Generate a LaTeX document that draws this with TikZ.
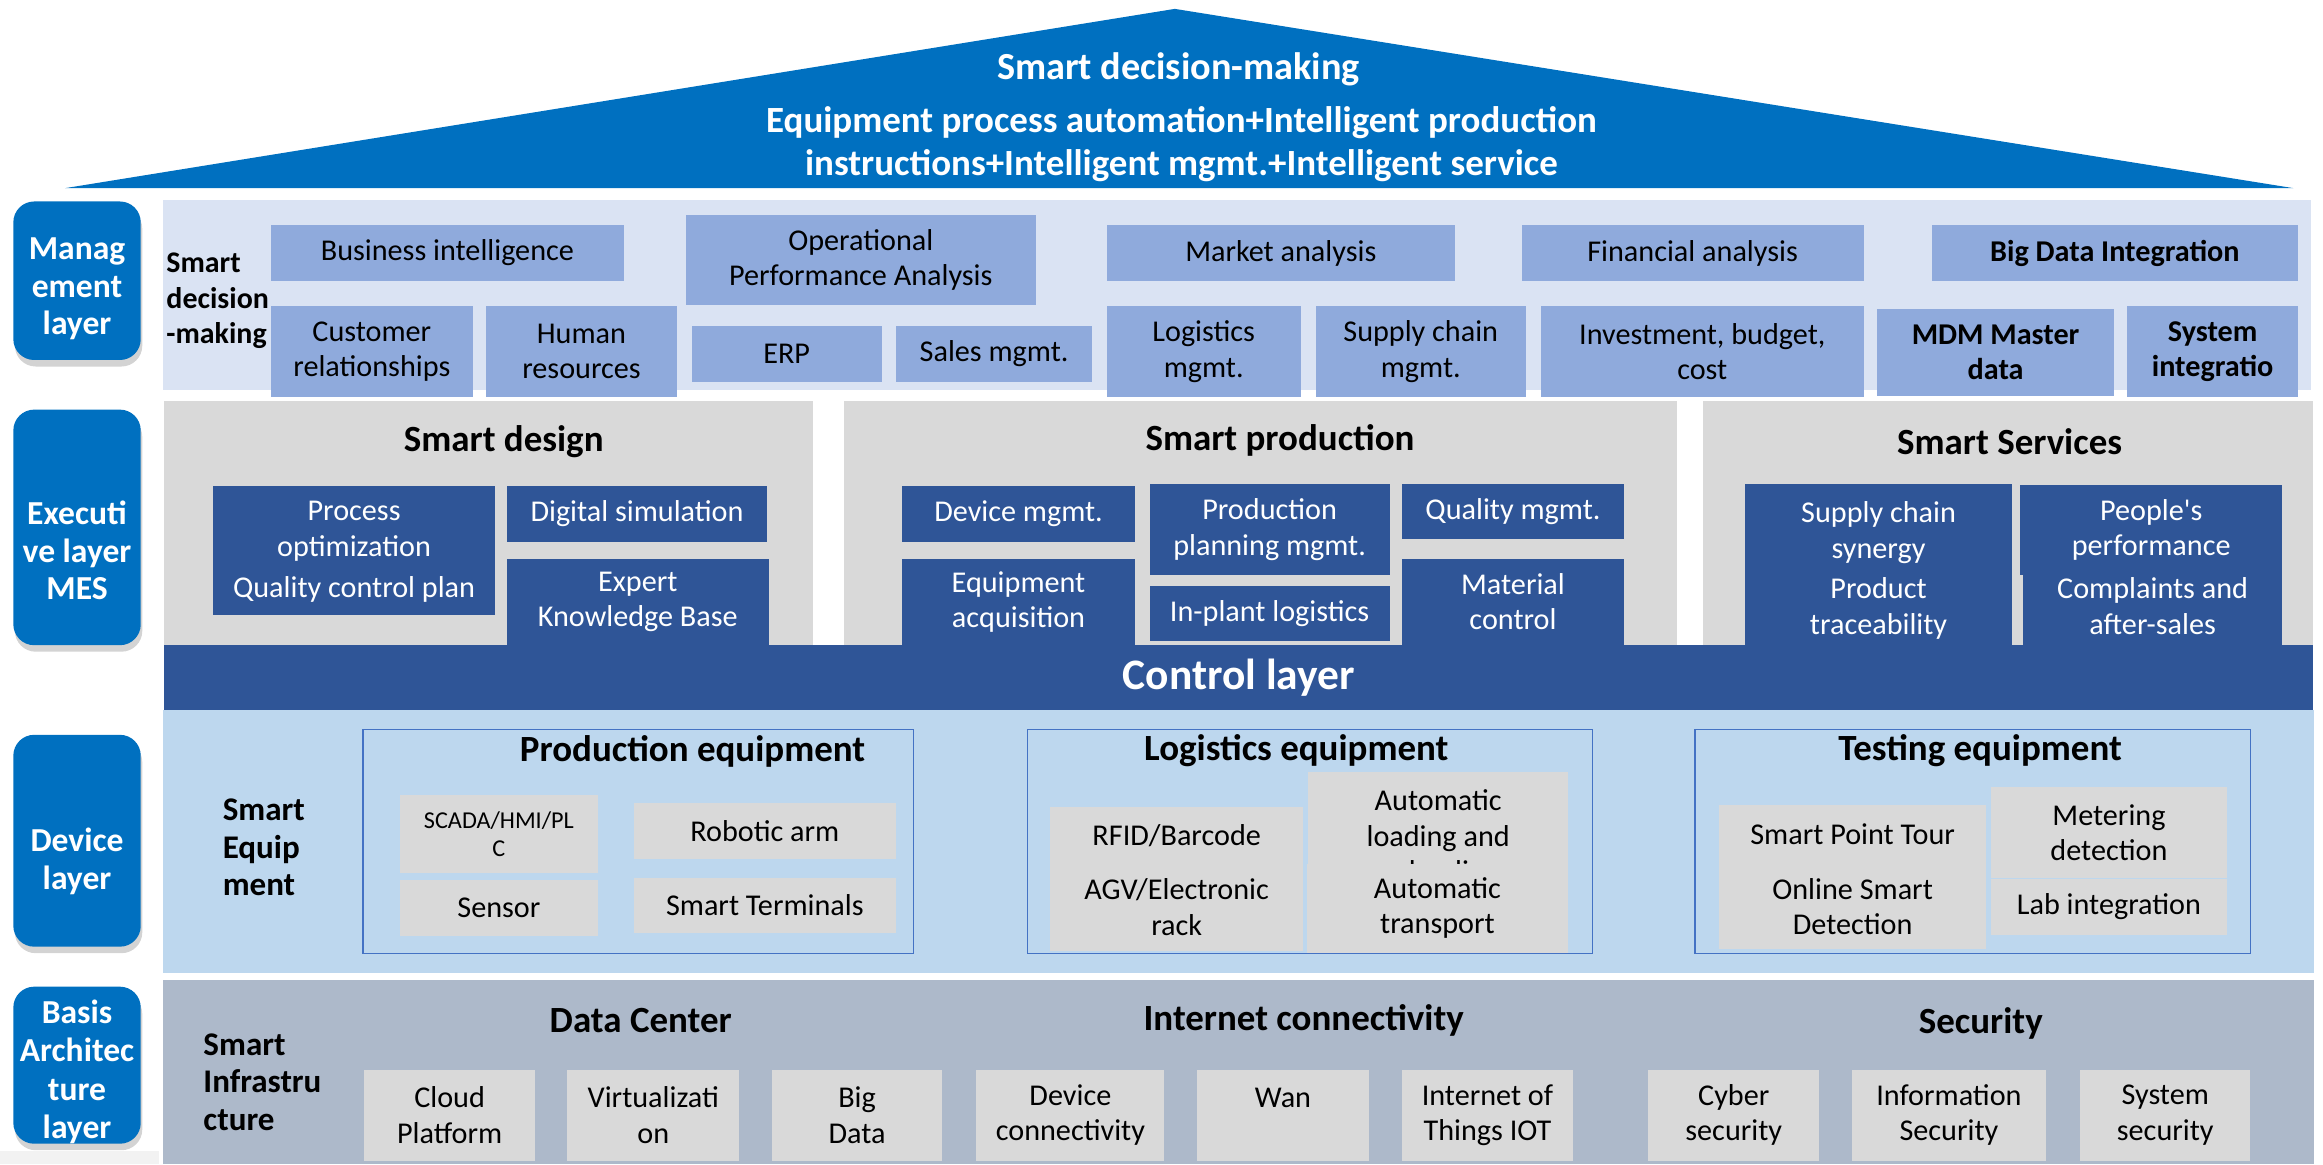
\documentclass[tikz,border=0pt]{standalone}
\usepackage{fontspec}
\setmainfont{Carlito}
\usetikzlibrary{shadows}
\definecolor{roofblue}{HTML}{0070C0}
\definecolor{mgbg}{HTML}{DAE3F3}
\definecolor{mgbox}{HTML}{8FAADC}
\definecolor{exgray}{HTML}{D9D9D9}
\definecolor{exbox}{HTML}{2F5597}
\definecolor{devbg}{HTML}{BDD7EE}
\definecolor{devline}{HTML}{4472C4}
\definecolor{basbg}{HTML}{ADB9CA}
\newcommand{\bodyfnt}{\fontsize{11.6}{13.6}\selectfont}
\newcommand{\smallfnt}{\fontsize{9.3}{10.8}\selectfont}
\newcommand{\headfnt}{\fontsize{14.2}{16}\selectfont\bfseries}
\newcommand{\rooffnt}{\fontsize{14.7}{16}\selectfont\bfseries}
\newcommand{\roofsmfnt}{\fontsize{14.2}{16}\selectfont\bfseries}
\newcommand{\ctlfnt}{\fontsize{16.7}{18}\selectfont\bfseries}
\newcommand{\pillfnt}{\fontsize{12.9}{14.4}\selectfont\bfseries}
\newcommand{\sidefnt}{\fontsize{11.5}{13.5}\selectfont\bfseries}
\newcommand{\sidebigfnt}{\fontsize{12.7}{14.4}\selectfont\bfseries}
\begin{document}
\begin{tikzpicture}[x=0.02cm,y=-0.02cm,
  bw/.style={minimum width=#1*0.02cm},
  bh/.style={minimum height=#1*0.02cm},
  box/.style={inner sep=0pt,align=center,font=\bodyfnt},
  mg/.style={box,fill=mgbox},
  ex/.style={box,fill=exbox,text=white},
  gr/.style={box,fill=exgray},
  head/.style={font=\headfnt,inner sep=0pt},
  pill/.style={fill=roofblue,rounded corners=8pt,inner sep=0pt,bw=86,
    drop shadow={shadow xshift=0.6pt,shadow yshift=-2.5pt,opacity=0.35}},
  pilltext/.style={text=white,font=\pillfnt,align=center,inner sep=0pt},
  side/.style={font=\sidefnt,align=left,inner sep=0pt,anchor=west},
  frame/.style={draw=devline,line width=0.6pt,inner sep=0pt}]
\useasboundingbox (0,0) rectangle (1568,786);

\fill[roofblue] (44,127) -- (793,6) -- (1548,127) -- cycle;
\node[text=white,font=\rooffnt,inner sep=0pt] (roofA) at (795.5,47) {Smart decision-making};
\node[text=white,font=\roofsmfnt,inner sep=0pt] (roofB) at (797.5,83) {Equipment process automation+Intelligent production};
\node[text=white,font=\roofsmfnt,inner sep=0pt] (roofC) at (797.5,112) {instructions+Intelligent mgmt.+Intelligent service};

\node[pill,bh=107] (mgP) at (52,189.5) {};
\node[pilltext] (mgT) at (52,195) {Manag\\ement\\layer};
\node[pill,bh=159] (exP) at (52,356) {};
\node[pilltext] (exT) at (52,371.5) {Executi\\ve layer\\MES};
\node[pill,bh=143] (dvP) at (52,567.5) {};
\node[pilltext] (dvT) at (52,581.5) {Device\\layer};
\node[pill,bh=106] (bsP) at (52,719) {};
\node[pilltext,font=\fontsize{12.9}{14.7}\selectfont\bfseries] (bsT) at (52,723.5) {Basis\\Architec\\ture\\layer};
\fill[black!5] (0,777) rectangle (107,786);

\fill[mgbg] (110,135) rectangle (1560,263);
\node[side,font=\sidefnt] (mgSide) at (112,203) {Smart\\decision\\-making};
\node[mg,bw=238,bh=37.5] (bi) at (302,170.75) {Business intelligence};
\node[mg,bw=236,bh=61] (opa) at (581,175.5) {Operational\\Performance Analysis};
\node[mg,bw=235,bh=37.5] (ma) at (864.5,170.75) {Market analysis};
\node[mg,bw=231,bh=37.5] (fa) at (1142.5,170.75) {Financial analysis};
\node[mg,bw=247,bh=37.5,font=\bodyfnt\bfseries] (bdi) at (1427.5,170.75) {Big Data Integration};
\node[mg,bw=136,bh=61.5] (cr) at (251,237.25) {Customer\\relationships};
\node[mg,bw=129,bh=61.5] (hr) at (392.5,237.25) {Human\\resources};
\node[mg,bw=128,bh=38] (erp) at (531,239) {ERP};
\node[mg,bw=132,bh=38] (sm) at (671,239) {Sales mgmt.};
\node[mg,bw=131,bh=61.5] (lm) at (812.5,237.25) {Logistics\\mgmt.};
\node[mg,bw=142,bh=61.5] (scm) at (959,237.25) {Supply chain\\mgmt.};
\node[mg,bw=218,bh=61.5] (ibc) at (1149,237.25) {Investment, budget,\\cost};
\node[mg,bw=160,bh=58.7,font=\bodyfnt\bfseries] (mdm) at (1347,238) {MDM Master\\data};
\node[mg,bw=115,bh=61.5,font=\bodyfnt\bfseries] (si) at (1493.5,237.25) {System\\integratio};

\fill[exgray] (111,270.7) rectangle (549,436);
\fill[exgray] (570,270.7) rectangle (1132,436);
\fill[exgray] (1149.5,270.7) rectangle (1561.5,436);
\node[head] (sdH) at (340,298) {Smart design};
\node[head] (spH) at (864,297) {Smart production};
\node[head] (ssH) at (1356.5,298) {Smart Services};
\node[ex,bw=190,bh=61] (po) at (239,358.5) {Process\\optimization};
\node[ex,bw=190,bh=34] (qcp) at (239,398) {Quality control plan};
\node[ex,bw=176,bh=37.6] (ds) at (430,346.8) {Digital simulation};
\node[ex,bw=177,bh=58.4] (ekb) at (430.5,406.2) {Expert\\Knowledge Base};
\node[ex,bw=157,bh=37.6] (dm) at (687.5,346.8) {Device mgmt.};
\node[ex,bw=157,bh=58.4] (ea) at (687.5,406.2) {Equipment\\acquisition};
\node[ex,bw=162,bh=61] (ppm) at (857,357.5) {Production\\planning mgmt.};
\node[ex,bw=162,bh=37.4] (ipl) at (857,414.3) {In-plant logistics};
\node[ex,bw=150.5,bh=37] (qm) at (1021.25,345.5) {Quality mgmt.};
\node[ex,bw=150.5,bh=58.4] (mc) at (1021.25,406.2) {Material\\control};
\node[ex,bw=180,bh=108.4] (scs) at (1268,381.2) {};
\node[box,text=white] (scsT) at (1268,385) {Supply chain\\synergy\\[2pt]Product\\traceability};
\node[ex,bw=177,bh=60.6] (pp) at (1452,357.7) {People\textquotesingle s\\performance};
\node[ex,bw=175,bh=47.4] (cas) at (1453,411.7) {};
\node[box,text=white] (casT) at (1453,409) {Complaints and\\after-sales};

\node[fill=exbox,text=white,font=\ctlfnt,inner sep=0pt,bw=1450.5,bh=43.6] (ctl) at (836.25,457.2) {Control layer};

\fill[devbg] (110,479) rectangle (1562,657);
\node[side,font=\sidebigfnt] (dvSide) at (150,572) {Smart\\Equip\\ment};
\node[frame,bw=371.5,bh=151.2] (pe) at (430.75,567.9) {};
\node[frame,bw=381.5,bh=151.2] (le) at (884.25,567.9) {};
\node[frame,bw=375,bh=151.2] (te) at (1331.5,567.9) {};
\node[head] (peH) at (467.5,507) {Production equipment};
\node[head] (leH) at (875,507) {Logistics equipment};
\node[head] (teH) at (1336.5,507) {Testing equipment};
\node[gr,bw=133.5,bh=52.4,font=\smallfnt] (scada) at (336.75,562.8) {SCADA/HMI/PL\\C};
\node[gr,bw=176.5,bh=37.8] (ra) at (516.25,560.7) {Robotic arm};
\node[gr,bw=133.5,bh=37.6] (sen) at (336.75,612.8) {Sensor};
\node[gr,bw=176.5,bh=37.6] (st) at (516.25,611.2) {Smart Terminals};
\node[gr,bw=170.5,bh=38] (rfid) at (794.25,564) {RFID/Barcode};
\node[gr,bw=170.5,bh=58.7] (agv) at (794.25,612.35) {AGV/Electronic\\rack};
\node[gr,bw=175.5,bh=62] (aluB) at (970.75,552) {};
\begin{scope}
\clip (aluB.north west) rectangle (aluB.south east);
\node[box] (aluT) at (970.75,566) {Automatic\\loading and\\unloading};
\end{scope}
\node[gr,bw=176.5,bh=60] (at) at (970.25,613) {Automatic\\transport};
\node[gr,bw=180,bh=39.6] (spt) at (1250.5,563.2) {Smart Point Tour};
\node[gr,bw=180,bh=57.8] (osd) at (1250.5,611.9) {Online Smart\\Detection};
\node[gr,bw=159,bh=60.9] (md) at (1423.5,561.95) {Metering\\detection};
\node[gr,bw=159,bh=37.5] (li) at (1423.5,612.25) {Lab integration};

\fill[basbg] (110,661.5) rectangle (1562,786);
\node[side,font=\sidebigfnt] (bsSide) at (137,730.5) {Smart\\Infrastru\\cture};
\node[head] (dcH) at (432.5,689) {Data Center};
\node[head] (icH) at (880,689) {Internet connectivity};
\node[head] (secH) at (1337,691) {Security};
\node[gr,bw=115,bh=61.5] (cp) at (303.5,752.75) {Cloud\\Platform};
\node[gr,bw=116,bh=61.5] (vz) at (441,752.75) {Virtualizati\\on};
\node[gr,bw=115,bh=61.5] (bd) at (578.5,752.75) {Big\\Data};
\node[gr,bw=127,bh=61.5] (dc) at (722.5,752.75) {Device\\connectivity};
\node[gr,bw=116,bh=61.5] (wan) at (866,752.75) {Wan\\~};
\node[gr,bw=116,bh=61.5] (iot) at (1004,752.75) {Internet of\\Things IOT};
\node[gr,bw=115.5,bh=61.5] (cs) at (1170.25,752.75) {Cyber\\security};
\node[gr,bw=131,bh=61.5] (is) at (1315.5,752.75) {Information\\Security};
\node[gr,bw=115,bh=61.5] (ss) at (1461.5,752.75) {System\\security};
\end{tikzpicture}
\end{document}
